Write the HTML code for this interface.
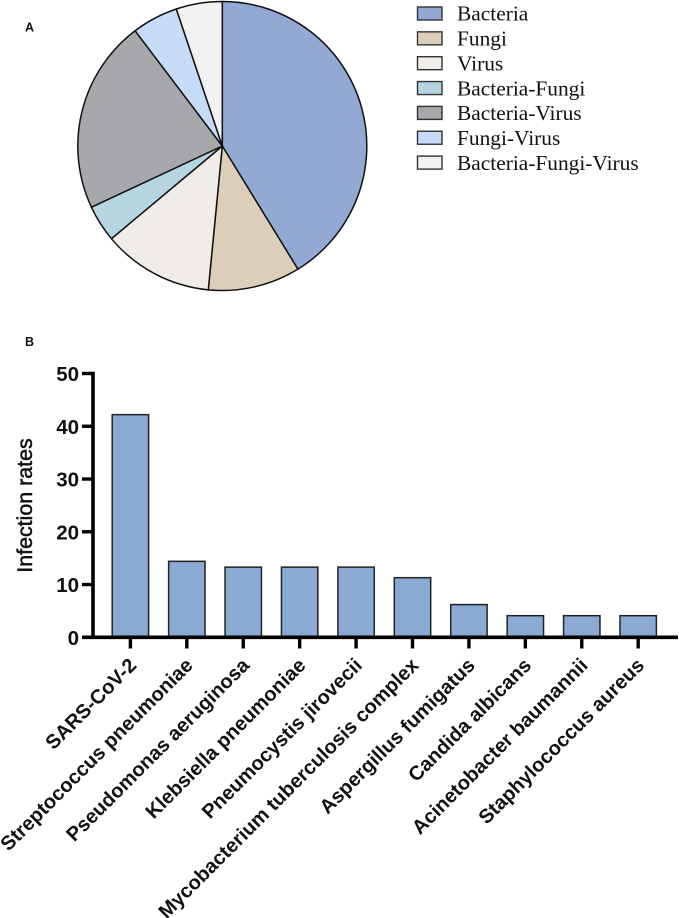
<!DOCTYPE html>
<html>
<head>
<meta charset="utf-8">
<title>Infection chart</title>
<style>
html,body{margin:0;padding:0;background:#fff;}
svg{display:block;}
</style>
</head>
<body>
<svg id="chart" xmlns="http://www.w3.org/2000/svg" width="679" height="918" viewBox="0 0 679 918">
  <rect x="0" y="0" width="679" height="918" fill="#ffffff"/>
  <text x="25" y="31.5" font-family="'Liberation Sans',sans-serif" font-weight="700" font-size="12.5" fill="#111">A</text>
  <text x="25" y="346" font-family="'Liberation Sans',sans-serif" font-weight="700" font-size="12.5" fill="#111">B</text>
  <g id="pie"></g>
  <g id="legend"></g>
  <g id="bars"></g>
  <g id="axes"></g>
  <text transform="translate(32,505.5) rotate(-90)" text-anchor="middle" font-family="'Liberation Sans',sans-serif" font-size="21.4" font-weight="400" stroke="#111" stroke-width="0.5" fill="#111">Infection rates</text>
</svg>
<script>
var pieCategories = ['Bacteria', 'Fungi', 'Virus', 'Bacteria-Fungi', 'Bacteria-Virus', 'Fungi-Virus', 'Bacteria-Fungi-Virus'];
var pieValues = [40, 10, 12, 4, 21, 5, 5];
var pieColors = ['#92a9d3', '#dccfb9', '#f0ede8', '#b5d5e0', '#a6a8ab', '#c6dbf6', '#f2f2f2'];
var barCategories = ['SARS-CoV-2', 'Streptococcus pneumoniae', 'Pseudomonas aeruginosa', 'Klebsiella pneumoniae', 'Pneumocystis jirovecii', 'Mycobacterium tuberculosis complex', 'Aspergillus fumigatus', 'Candida albicans', 'Acinetobacter baumannii', 'Staphylococcus aureus'];
var barValues = [42.2, 14.4, 13.3, 13.3, 13.3, 11.3, 6.2, 4.1, 4.1, 4.1];
var yTicks = [0, 10, 20, 30, 40, 50];

var NS = 'http://www.w3.org/2000/svg';
function make(tag, attrs, parent) {
  var el = document.createElementNS(NS, tag);
  for (var k in attrs) { el.setAttribute(k, attrs[k]); }
  parent.appendChild(el);
  return el;
}

/* Pie */
var pieGroup = document.getElementById('pie');
var cx = 222.3, cy = 146, r = 144.5;
var pieTotal = pieValues.reduce(function (a, b) { return a + b; }, 0);
function piePoint(fraction) {
  var a = fraction * 2 * Math.PI;
  return [cx + r * Math.sin(a), cy - r * Math.cos(a)];
}
var running = 0;
pieValues.forEach(function (v, i) {
  var p0 = piePoint(running / pieTotal);
  running += v;
  var p1 = piePoint(running / pieTotal);
  var large = v / pieTotal > 0.5 ? 1 : 0;
  var d = 'M' + cx + ' ' + cy + 'L' + p0[0] + ' ' + p0[1] + 'A' + r + ' ' + r + ' 0 ' + large + ' 1 ' + p1[0] + ' ' + p1[1] + 'Z';
  var slice = make('path', { d: d, fill: pieColors[i], stroke: '#111', 'stroke-width': 1.5, 'stroke-linejoin': 'round' }, pieGroup);
  
  
});

/* Legend */
var legendGroup = document.getElementById('legend');
pieCategories.forEach(function (name, i) {
  var y = 7 + i * 24.85;
  var swatch = make('rect', { x: 417.5, y: y, width: 24.5, height: 13, fill: pieColors[i], stroke: '#333', 'stroke-width': 1.4 }, legendGroup);
  
  
  var label = make('text', { x: 457, y: 20.7 + i * 24.85, 'font-family': "'Liberation Serif',serif", 'font-size': 21.4, fill: '#111' }, legendGroup);
  
  
  label.textContent = name;
});

/* Axis functions */
var y0 = 637.3, yPerUnit = 5.276, x0 = 130.4, xStep = 56.42, barWidth = 36.4;
function yScale(v) { return y0 - v * yPerUnit; }
function xScale(i) { return x0 + i * xStep; }

/* Bars */
var barGroup = document.getElementById('bars');
barValues.forEach(function (v, i) {
  var bar = make('rect', { x: xScale(i) - barWidth / 2, y: yScale(v), width: barWidth, height: y0 - yScale(v), fill: '#8aa9d3', stroke: '#222', 'stroke-width': 1.5 }, barGroup);
  
  
});

/* Axes */
var axesGroup = document.getElementById('axes');
var yAxisLine = make('line', { x1: 93, x2: 93, y1: yScale(50) - 1.7, y2: y0 + 1.7, stroke: '#000', 'stroke-width': 3.6 }, axesGroup);


var xAxisLine = make('line', { x1: 82, x2: 678, y1: y0, y2: y0, stroke: '#000', 'stroke-width': 3.6 }, axesGroup);


yTicks.forEach(function (t) {
  var tick = make('line', { x1: 82, x2: 93, y1: yScale(t), y2: yScale(t), stroke: '#000', 'stroke-width': 3.4 }, axesGroup);
  
  
  var label = make('text', { x: 79, y: yScale(t) + 7.6, 'text-anchor': 'end', 'font-family': "'Liberation Sans',sans-serif", 'font-weight': 700, 'font-size': 20.5, fill: '#111' }, axesGroup);
  
  
  label.textContent = String(t);
});
barCategories.forEach(function (name, i) {
  var tick = make('line', { x1: xScale(i), x2: xScale(i), y1: y0, y2: 648.5, stroke: '#000', 'stroke-width': 3.4 }, axesGroup);
  
  
  var label = make('text', { transform: 'translate(' + (xScale(i) + 7.2) + ',666.5) rotate(-45)', 'text-anchor': 'end', 'font-family': "'Liberation Sans',sans-serif", 'font-weight': 700, 'font-size': 20, fill: '#111' }, axesGroup);
  
  
  label.textContent = name;
});
</script>
</body>
</html>
